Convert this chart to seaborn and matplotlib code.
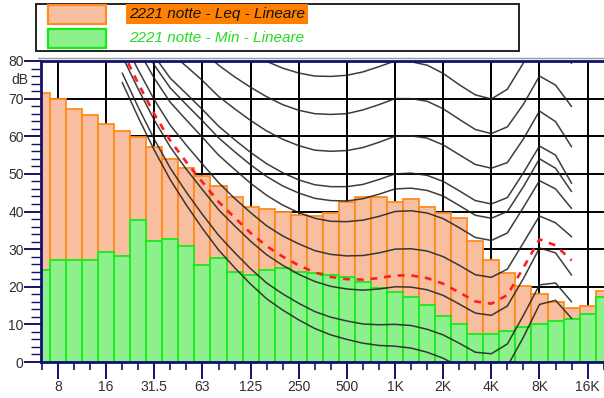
import matplotlib
matplotlib.use("Agg")
import matplotlib.pyplot as plt
from matplotlib.patches import Rectangle
from matplotlib.lines import Line2D
import pandas as pd
import seaborn as sns

# 1/3-octave bands, 6.3 Hz .. 20 kHz
bands = ["6.3", "8", "10", "12.5", "16", "20", "25", "31.5", "40", "50", "63", "80",
         "100", "125", "160", "200", "250", "315", "400", "500", "630", "800",
         "1K", "1.25K", "1.6K", "2K", "2.5K", "3.15K", "4K", "5K", "6.3K", "8K",
         "10K", "12.5K", "16K", "20K"]

leq_db = [71.6, 69.9, 67.2, 65.6, 63.3, 61.5, 59.9, 57.1, 54.0, 51.5, 49.4, 46.8,
          43.9, 41.3, 40.7, 39.8, 39.1, 38.9, 39.5, 42.6, 43.9, 43.9, 42.6, 43.3,
          41.3, 39.5, 38.4, 32.2, 27.1, 23.6, 20.3, 18.1, 16.0, 14.4, 14.9, 19.0]

min_db = [24.4, 27.1, 27.1, 27.1, 29.2, 28.2, 37.7, 32.2, 32.7, 30.9, 25.8, 27.7,
          24.0, 23.1, 24.4, 24.9, 24.0, 23.6, 23.1, 22.6, 21.3, 19.6, 18.7, 17.3,
          15.1, 12.3, 10.0, 7.5, 7.4, 8.2, 9.2, 10.0, 10.9, 11.4, 12.8, 17.4]

octave_labels = ["8", "16", "31.5", "63", "125", "250", "500", "1K", "2K", "4K", "8K", "16K"]

# Equal-loudness contours, 20 Hz .. 12.5 kHz (band index 5 .. 33)
threshold = [74.3, 65.0, 56.3, 48.4, 41.7, 35.5, 29.8, 25.1, 20.7, 16.8, 13.8, 11.2, 8.9,
             7.2, 6.0, 5.0, 4.4, 4.2, 3.7, 2.6, 1.0, -1.2, -3.6, -3.9, -1.1, 6.6, 15.3,
             16.4, 11.6]
phon_10 = [76.8, 67.7, 59.2, 51.5, 45.1, 39.2, 33.7, 29.1, 24.8, 21.0, 18.1, 15.6, 13.4,
           11.9, 10.9, 10.1, 9.9, 10.0, 9.7, 8.7, 7.2, 5.0, 2.6, 2.2, 4.8, 12.4, 20.5,
           21.0, 16.0]
phon_20 = [81.3, 72.5, 64.3, 57.1, 51.2, 45.8, 40.5, 36.2, 32.1, 28.5, 25.7, 23.3, 21.4,
           20.1, 19.4, 19.1, 19.4, 20.0, 19.9, 19.2, 17.7, 15.4, 13.0, 12.4, 14.9, 22.2,
           30.3, 29.0, 23.1]
phon_30 = [86.0, 77.6, 69.7, 62.9, 57.6, 52.6, 47.7, 43.5, 39.7, 36.2, 33.5, 31.4, 29.6,
           28.6, 28.2, 28.3, 29.0, 30.0, 30.1, 29.5, 28.0, 25.7, 23.2, 22.5, 24.7, 31.7,
           38.8, 37.0, 33.3]
phon_40 = [91.0, 82.9, 75.4, 69.0, 64.3, 59.7, 55.0, 51.2, 47.5, 44.3, 41.7, 39.7, 38.2,
           37.4, 37.3, 37.7, 38.7, 40.0, 40.2, 39.6, 38.1, 35.7, 33.1, 32.3, 34.3, 41.1,
           48.2, 46.0, 40.8]
phon_46 = [94.1, 86.2, 78.9, 72.8, 68.4, 64.1, 59.6, 55.9, 52.4, 49.3, 46.8, 44.9, 43.5,
           42.9, 42.8, 43.4, 44.6, 46.0, 46.2, 45.6, 44.1, 41.6, 39.0, 38.2, 40.0, 46.6,
           54.0, 51.5, 45.3]
phon_50 = [96.2, 88.5, 81.3, 75.4, 71.3, 67.1, 62.7, 59.1, 55.7, 52.7, 50.3, 48.4, 47.1,
           46.6, 46.6, 47.2, 48.5, 50.0, 50.2, 49.6, 48.0, 45.5, 42.9, 42.0, 43.7, 50.3,
           57.4, 55.0, 47.5]
phon_60 = [101.7, 94.4, 87.6, 82.1, 78.6, 74.8, 70.6, 67.3, 64.2, 61.4, 59.2, 57.5, 56.3,
           56.0, 56.2, 57.0, 58.4, 60.0, 60.1, 59.5, 57.7, 55.1, 52.5, 51.5, 53.0, 59.3,
           66.7, 63.9, 57.2]
phon_70 = [107.6, 100.7, 94.3, 89.2, 86.4, 82.8, 78.9, 75.8, 73.0, 70.5, 68.4, 66.9, 66.0,
           65.8, 66.0, 67.0, 68.4, 70.0, 70.0, 69.3, 67.3, 64.5, 61.8, 60.7, 62.5, 68.5,
           76.0, 73.6, 67.9]
phon_80 = [113.7, 107.3, 101.3, 96.6, 94.6, 91.1, 87.4, 84.7, 82.2, 79.9, 78.1, 76.8, 76.0,
           75.9, 76.2, 77.1, 78.5, 80.0, 79.8, 78.9, 76.7, 73.7, 71.0, 69.9, 72.5, 79.5,
           86.0, 84.0, 79.4]
# loudness-level contour of the measured spectrum
phon_level = [82.7, 74.0, 65.9, 58.8, 53.1, 47.8, 42.6, 38.4, 34.3, 30.8, 28.0, 25.7, 23.8,
              22.6, 22.0, 21.9, 22.3, 23.0, 23.0, 22.3, 20.8, 18.5, 16.1, 15.5, 17.8, 25.1,
              32.6, 31.0, 27.0]

ORANGE_FILL = "#F8BEA0"
ORANGE_EDGE = "#FF8A1E"
GREEN_FILL = "#8CF08C"
GREEN_EDGE = "#18EA18"
NAVY = "#12126E"
INK = "#303030"

sns.set_theme(style="white")
plt.rcParams["font.family"] = ["Liberation Sans", "DejaVu Sans"]

W, H = 604, 398
fig = plt.figure(figsize=(W / 100, H / 100), dpi=100)


def px_rect(x0, y0, x1, y1):
    return [x0 / W, 1 - y1 / H, (x1 - x0) / W, (y1 - y0) / H]


ax = fig.add_axes(px_rect(41, 61, 604, 362))

df = pd.DataFrame({"band": bands, "Leq": leq_db, "Min": min_db})
sns.barplot(data=df, x="band", y="Leq", order=bands, color=ORANGE_FILL, saturation=1,
            width=1.0, edgecolor=ORANGE_EDGE, linewidth=1.3, ax=ax, zorder=2)
sns.barplot(data=df, x="band", y="Min", order=bands, color=GREEN_FILL, saturation=1,
            width=1.0, edgecolor=GREEN_EDGE, linewidth=1.3, ax=ax, zorder=3)

contour_x = list(range(5, 34))
for curve in [threshold, phon_10, phon_20, phon_30, phon_40, phon_46, phon_50,
              phon_60, phon_70, phon_80]:
    ax.plot(contour_x, curve, color="#222222", lw=1.1, alpha=0.88, zorder=4,
            solid_joinstyle="round")
ax.plot(contour_x, phon_level, color="#FF1E1E", lw=1.9, dashes=(2.6, 2.6), zorder=5)

# axes ranges
ax.set_xlim(-0.06, 35.02)
ax.set_ylim(0, 80)

octave_pos = [bands.index(b) for b in octave_labels]
ax.set_xticks(octave_pos)
ax.set_xticklabels(octave_labels)
ax.set_xticks(range(len(bands)), minor=True)
ax.set_yticks(range(0, 81, 10))
ax.set_yticks(range(0, 81, 2), minor=True)
ax.set_xlabel("")
ax.set_ylabel("")

ax.set_axisbelow(True)
ax.grid(True, which="major", color="black", lw=1.4)

ax.tick_params(axis="x", which="major", length=12, width=1.4, color=NAVY, pad=1,
               labelsize=10, labelcolor=INK, bottom=True)
ax.tick_params(axis="x", which="minor", length=6, width=1.2, color=NAVY, bottom=True)
ax.tick_params(axis="y", which="major", length=12, width=1.4, color=NAVY, pad=0.5,
               labelsize=10, labelcolor=INK, left=True)
ax.tick_params(axis="y", which="minor", length=7, width=1.0, color=NAVY, left=True)

for side in ("left", "bottom", "top"):
    ax.spines[side].set_visible(True)
    ax.spines[side].set_color(NAVY)
    ax.spines[side].set_linewidth(2.0)
    ax.spines[side].set_zorder(6)
ax.spines["right"].set_visible(False)

ax.text(-13 / 563, 75, "dB", transform=ax.get_yaxis_transform(), ha="right",
        va="center", fontsize=10, color=INK)

# frame line above the plot
fig.add_artist(Line2D([38 / W, 1.0], [1 - 58 / H, 1 - 58 / H], color="#9A9A9A", lw=1.0))

# legend
fig.add_artist(Rectangle((36 / W, 1 - 51 / H), (519 - 36) / W, 47 / H, fill=False,
                         edgecolor="#222222", lw=1.4))
fig.add_artist(Rectangle((48 / W, 1 - 24 / H), 58 / W, 19 / H, facecolor=ORANGE_FILL,
                         edgecolor=ORANGE_EDGE, lw=1.6))
fig.add_artist(Rectangle((48 / W, 1 - 48 / H), 58 / W, 19 / H, facecolor=GREEN_FILL,
                         edgecolor=GREEN_EDGE, lw=1.6))
fig.text(129 / W, 1 - 14 / H, "2221 notte - Leq - Lineare", ha="left", va="center",
         fontsize=11, style="italic", color="#111111",
         bbox=dict(facecolor="#FF8000", edgecolor="none", pad=2.2))
fig.text(129 / W, 1 - 38.5 / H, "2221 notte - Min - Lineare", ha="left", va="center",
         fontsize=11, style="italic", color="#22DD22")

fig.savefig("out.png", dpi=100)
